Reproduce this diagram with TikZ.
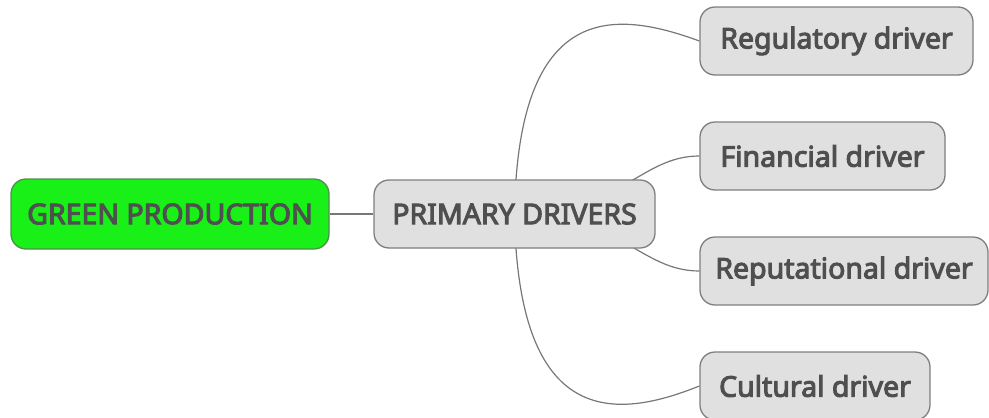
\documentclass[tikz,border=0pt]{standalone}
\usepackage{fontspec}
\setmainfont{Noto Sans}[BoldFont={Noto Sans}, BoldFeatures={FakeBold=3.6}]
\usetikzlibrary{backgrounds}
\definecolor{txtgray}{HTML}{4F4F4F}
\definecolor{boxfill}{HTML}{E0E0E0}
\definecolor{boxline}{HTML}{7F7F7F}
\definecolor{rootfill}{HTML}{18F018}
\definecolor{rootline}{HTML}{4E8F4E}
\definecolor{wire}{HTML}{777777}
\tikzset{
  topic/.style={draw=boxline, fill=boxfill, line width=1.3pt, rounded corners=15pt,
    minimum height=68pt, inner sep=0pt, text=txtgray,
    font=\fontsize{28.5}{32}\selectfont\bfseries},
  rootbox/.style={topic, draw=rootline, fill=rootfill},
  wirestyle/.style={draw=wire, line width=1.2pt}
}
\begin{document}
\begin{tikzpicture}[x=1pt, y=-1pt]
  \useasboundingbox (0,0) rectangle (989,418);

  \node[rootbox, minimum width=318pt, minimum height=70pt] (green) at (170,214) {GREEN PRODUCTION};
  \node[topic, minimum width=281pt] (primary) at (514.5,214) {PRIMARY DRIVERS};
  \node[topic, minimum width=273pt] (reg) at (836.5,41) {Regulatory driver};
  \node[topic, minimum width=245pt] (fin) at (822.5,156) {Financial driver};
  \node[topic, minimum width=288pt] (rep) at (844,271) {Reputational driver};
  \node[topic, minimum width=230pt] (cul) at (815,386) {Cultural driver};

  \begin{scope}[on background layer]
    \draw[wirestyle] (green.east) -- (primary.west);
    \draw[wirestyle] (primary.center) .. controls (518,0) and (615,10) .. (reg.west);
    \draw[wirestyle] (primary.center) .. controls (620,214) and (640,156) .. (fin.west);
    \draw[wirestyle] (primary.center) .. controls (620,214) and (640,271) .. (rep.west);
    \draw[wirestyle] (primary.center) .. controls (518,428) and (615,420) .. (cul.west);
  \end{scope}
\end{tikzpicture}
\end{document}
